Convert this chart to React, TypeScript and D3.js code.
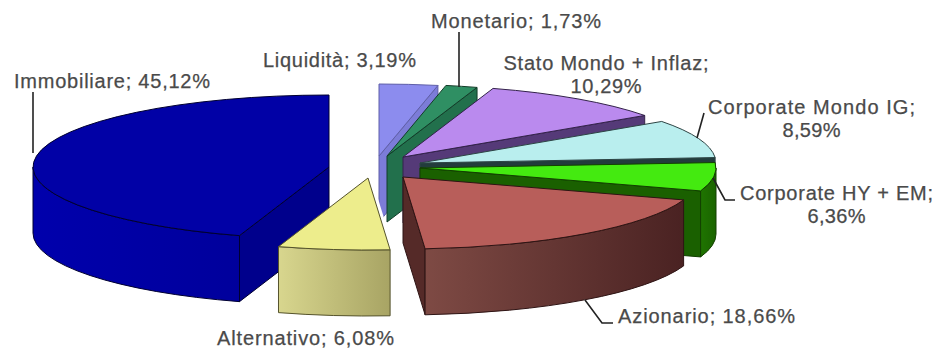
import React from "react";
import * as d3 from "d3";

const categories = ["Liquidità", "Monetario", "Stato Mondo + Inflaz", "Corporate Mondo IG", "Corporate HY + EM", "Azionario", "Alternativo", "Immobiliare"];
const shares = [3.19, 1.73, 10.29, 8.59, 6.36, 18.66, 6.08, 45.12];
const topColors = ["#8C8CEE", "#2F8F63", "#BA8AEE", "#B9EEEE", "#44EA10", "#B85E5A", "#EDED8C", "#0101A6"];
const rimFrom = ["#7C7CD8", "#24754E", "#5E4088", "#2F5A5A", "#1F7400", "#7E4A44", "#D8D68E", "#0000AC"];
const rimTo = ["#7C7CD8", "#24754E", "#5E4088", "#2F5A5A", "#1A6400", "#4A2222", "#A8A464", "#00009C"];
const cutColors = ["#7C7CD8", "#22704C", "#553A78", "#223C3C", "#1A6000", "#552A28", "#C4C27C", "#00008C"];
const edgeColors = ["#5F5FA8", "#123C28", "#33224A", "#2C4444", "#123F00", "#2E1414", "#55532C", "#000030"];

// Each wedge is pulled away from the shared centre by its own amount.
const pullX = [-1, 7, 23, 40, 40, 23, -12, -51];
const pullY = [-10, -10, -9, -3, 2, 11, 12, 1];
const paintOrder = [0, 1, 2, 3, 4, 5, 7, 6];
const GAP_WEDGE = 6;

const labels = [
  { lines: ["Liquidità; 3,19%"], x: 339.5, y: 66.5, w: [153] },
  { lines: ["Monetario; 1,73%"], x: 516, y: 27.5, w: [170] },
  { lines: ["Stato Mondo + Inflaz;", "10,29%"], x: 606, y: 69.5, w: [205, 71] },
  { lines: ["Corporate Mondo IG;", "8,59%"], x: 811.5, y: 113.5, w: [207, 58] },
  { lines: ["Corporate HY + EM;", "6,36%"], x: 836.5, y: 199.5, w: [193, 58] },
  { lines: ["Azionario; 18,66%"], x: 706.5, y: 323, w: [177] },
  { lines: ["Alternativo; 6,08%"], x: 305.5, y: 344.5, w: [177] },
  { lines: ["Immobiliare; 45,12%"], x: 112, y: 87.5, w: [196] },
];
const leaders = [
  [[33, 92], [33, 153]],
  [[459, 32], [459, 87]],
  [[704, 113], [697, 138]],
  [[713, 178], [725, 200], [735, 200]],
  [[585, 300], [602, 323], [613, 323]],
];

const W = 937, H = 348, CX = 380, CY = 166, RX = 296, RY = 72, DEPTH = 66;

export default function App() {
  const arcs = d3.pie<number>().sort(null).startAngle(0).endAngle(2 * Math.PI)(shares);
  const pt = (i: number, a: number, drop = 0): [number, number] => [
    CX + pullX[i] + RX * Math.sin(a),
    CY + pullY[i] - RY * Math.cos(a) + drop,
  ];
  const line = d3.line();
  return (
    <svg width={W} height={H} style={{ position: "absolute", left: 0, top: 0, background: "#fff" }}>
      <defs>
        {categories.map((_, i) => (
          <linearGradient key={i} id={`rim${i}`} x1="0" x2="1" y1="0" y2="0">
            <stop offset="0" stopColor={rimFrom[i]} />
            <stop offset="1" stopColor={rimTo[i]} />
          </linearGradient>
        ))}
      </defs>
      {paintOrder.map((i) => {
        const { startAngle: a0, endAngle: a1 } = arcs[i];
        const centre: [number, number] = [CX + pullX[i], CY + pullY[i]];
        const large = a1 - a0 > Math.PI ? 1 : 0;
        const [sx, sy] = pt(i, a0);
        const [ex, ey] = pt(i, a1);
        const top = `M${centre}L${sx},${sy}A${RX},${RY} 0 ${large} 1 ${ex},${ey}Z`;
        const quad = (a: number) =>
          line([centre, pt(i, a), pt(i, a, DEPTH), [centre[0], centre[1] + DEPTH]])! + "Z";
        const r0 = Math.max(a0, Math.PI / 2), r1 = Math.min(a1, 1.5 * Math.PI);
        const hasRim = r1 > r0;
        const p0 = pt(i, r0), p1 = pt(i, r1), p2 = pt(i, r1, DEPTH), p3 = pt(i, r0, DEPTH);
        const rim = `M${p0}A${RX},${RY} 0 0 1 ${p1}L${p2}A${RX},${RY} 0 0 0 ${p3}Z`;
        const common = { stroke: edgeColors[i], strokeWidth: 1, strokeLinejoin: "round" as const };
        return (
          <g key={i}>
            {i === GAP_WEDGE && <path d={line([centre, pt(i, a0)])!} stroke="#fff" strokeWidth={7} />}
            {Math.sin(a1) > 0 && <path d={quad(a1)} fill={cutColors[i]} {...common} />}
            {Math.sin(a0) < 0 && <path d={quad(a0)} fill={cutColors[i]} {...common} />}
            {hasRim && <path d={rim} fill={`url(#rim${i})`} {...common} />}
            <path d={top} fill={topColors[i]} {...common} />
          </g>
        );
      })}
      {leaders.map((l, i) => (
        <path key={i} d={line(l as [number, number][])!} fill="none" stroke="#222" strokeWidth={1.6} />
      ))}
      <g fontFamily="'Liberation Sans', Arial, sans-serif" fontSize={20} fill="#4a4a4a" stroke="#4a4a4a" strokeWidth={0.25} textAnchor="middle">
        {labels.map((lab, i) =>
          lab.lines.map((t, j) => (
            <text key={`${i}-${j}`} x={lab.x} y={lab.y + j * 23.5} textLength={lab.w[j]} lengthAdjust="spacing">
              {t}
            </text>
          ))
        )}
      </g>
    </svg>
  );
}
